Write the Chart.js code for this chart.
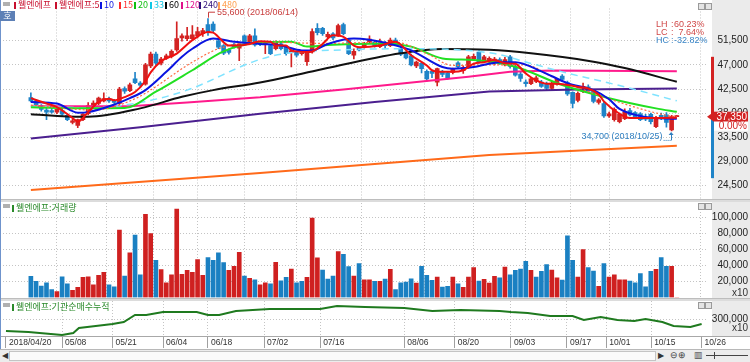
<!DOCTYPE html>
<html>
<head>
<meta charset="utf-8">
<script src="https://cdn.jsdelivr.net/npm/chart.js@4.4.1/dist/chart.umd.min.js"></script>
<style>
body { margin: 0; background: #fff; }
#wrap { position: relative; width: 750px; height: 362px; overflow: hidden; background: #fff; font-family: "Liberation Sans", sans-serif; }
canvas { position: absolute; left: 0; }
.abs { position: absolute; white-space: nowrap; }
.kr { font-family: "Noto Sans CJK KR", sans-serif; font-size: 9px; line-height: 10px; }
.mk { display: inline-block; width: 2px; height: 7px; margin-right: 2px; vertical-align: -1px; }
.sm { font-size: 9px; line-height: 8px; }
.btn { position: absolute; width: 5px; height: 5px; border: 1px solid #9a9a9a; background: #e4e4e4; }
</style>
</head>
<body>
<div id="wrap">
  <div class="abs" style="left:712px;top:0;width:38px;height:336px;background:#ebebeb"></div>
  <canvas id="cMain" width="750" height="200" style="top:0"></canvas>
  <canvas id="cVol" width="750" height="100" style="top:200px"></canvas>
  <canvas id="cInst" width="750" height="49" style="top:300px"></canvas>

  <!-- panel separators -->
  <div class="abs" style="left:0;top:199px;width:750px;height:2px;background:#dcdcdc;border-top:1px solid #bdbdbd"></div>
  <div class="abs" style="left:0;top:298px;width:750px;height:2px;background:#dcdcdc;border-top:1px solid #bdbdbd"></div>
  <div class="abs" style="left:0;top:336px;width:750px;height:1px;background:#a8a8a8"></div>
  <div class="abs" style="left:0;top:0;width:1px;height:349px;background:#6f93cc"></div>

  <!-- header legend -->
  <div class="abs" style="left:3px;top:2px;width:7px;height:4px;background:#b0b0b0"></div>
  <div id="legend"></div>
  <div class="abs kr" style="left:0;top:11px;width:15px;height:10px;background:#5d80b6;color:#fff;text-align:center">호</div>
  <div class="btn" style="left:698px;top:3px"></div><div class="btn" style="left:705px;top:3px"></div>

  <!-- LH / LC / HC -->
  <div class="abs sm" style="left:656px;top:20px;color:#d04848">LH</div>
  <div class="abs sm" style="left:671px;top:20px;color:#d04848">:</div>
  <div class="abs sm" style="left:674px;top:20px;width:30px;text-align:right;color:#d04848">60.23%</div>
  <div class="abs sm" style="left:656px;top:28px;color:#d04848">LC</div>
  <div class="abs sm" style="left:671px;top:28px;color:#d04848">:</div>
  <div class="abs sm" style="left:674px;top:28px;width:30px;text-align:right;color:#d04848">7.64%</div>
  <div class="abs sm" style="left:656px;top:36px;color:#3a86c8">HC</div>
  <div class="abs sm" style="left:671px;top:36px;color:#3a86c8">:</div>
  <div class="abs sm" style="left:674px;top:36px;width:30px;text-align:right;color:#3a86c8">-32.82%</div>

  <!-- volume panel title -->
  <div class="abs" style="left:3px;top:204px;width:7px;height:4px;background:#b0b0b0"></div>
  <div class="abs kr" style="left:12px;top:203px;color:#2a8a2a"><span class="mk" style="background:#2a8a2a"></span>웰엔에프:거래량</div>
  <div class="btn" style="left:698px;top:203px"></div><div class="btn" style="left:705px;top:203px"></div>
  <div class="abs sm" style="left:714px;top:288px;width:34px;text-align:right;color:#333;font-size:10px;line-height:10px">x10</div>

  <!-- institution panel title -->
  <div class="abs" style="left:3px;top:303px;width:7px;height:4px;background:#b0b0b0"></div>
  <div class="abs kr" style="left:12px;top:302px;color:#2a8a2a"><span class="mk" style="background:#2a8a2a"></span>웰엔에프:기관순매수누적</div>
  <div class="btn" style="left:698px;top:302px"></div><div class="btn" style="left:705px;top:302px"></div>
  <div class="abs sm" style="left:714px;top:323px;width:34px;text-align:right;color:#333;font-size:10px;line-height:10px">x10</div>

  <!-- scroll bar -->
  <div class="abs" style="left:0;top:349px;width:750px;height:13px;background:#ececec;border-top:1px solid #b8b8b8"></div>
  <div class="abs" style="left:2px;top:351px;font-size:8px;line-height:9px;color:#333">◀</div>
  <div class="abs" style="left:9px;top:351px;width:645px;height:8px;background:#fafafa;border:1px solid #c4c4c4"></div>
  <div class="abs" style="left:658px;top:351px;font-size:8px;line-height:9px;color:#333">▶</div>
  <div class="abs" style="left:670px;top:350px;font-size:9px;line-height:10px;color:#444">⊖⊕</div>
  <div class="abs" style="left:694px;top:350px;font-size:9px;line-height:10px;color:#444">▥</div>
  <div class="abs" style="left:706px;top:355px;width:42px;height:1px;background:#444"></div>
  <div class="abs" style="left:714px;top:352px;width:1px;height:7px;background:#444"></div>
</div>

<script>
// 날짜 눈금 (캔들 순번 기준)
const dateIdx = [0, 10, 19, 28, 36, 46, 56, 71, 80, 90, 100, 107, 115, 124];
const dateLbl = ['2018/04/20', '05/08', '05/21', '06/04', '06/18', '07/02', '07/16', '08/06', '08/20', '09/03', '09/17', '10/01', '10/15', '10/26'];

const priceTicks = [24500, 29000, 33500, 38000, 42500, 47000, 51500];
const volTicks = [20000, 40000, 60000, 80000, 100000];
const instTicks = [300000];

// 일봉 (시가/고가/저가/종가)
const openP = [40900,40300,39400,38600,38500,38200,38500,37600,36300,35700,
  36800,37900,39300,39800,40300,40700,40400,39800,42600,42200,
  44400,43600,43400,46800,49000,47300,48300,48600,49800,52000,
  51900,51900,52400,52800,54500,54600,51500,50600,49800,50800,
  50100,52400,51300,52400,51100,50800,50600,50000,50900,50300,
  49300,49400,49100,47600,49400,53800,53800,52200,52800,52500,
  54500,51600,48800,50100,50300,51300,51200,50400,51000,50600,
  51600,50000,49100,48700,46800,47300,45800,45800,43800,45700,
  45500,45600,47400,45900,46600,48100,49400,47600,47600,47600,
  48000,47000,48500,46600,45300,43800,43500,43900,43800,43500,
  42600,43400,44900,43700,41900,40400,42000,42900,42200,40000,
  39800,37500,36800,36400,37000,38500,38100,37900,37100,37800,
  35500,37600,37700,34900,37350];
const highP = [41800,40500,39600,39000,39100,39000,39000,37800,36900,36900,
  38000,40000,40300,41000,41800,41000,40600,42800,42900,43600,
  45600,43900,47300,49400,49400,48400,49000,49800,55000,52800,
  54000,54300,54000,53800,55600,55000,51800,50800,50000,51000,
  51000,52600,52700,53700,51300,51300,50800,51500,51200,50500,
  49800,49600,49700,49600,53700,54700,54000,53100,53000,54600,
  54800,51800,50000,50300,51200,52400,51500,51800,51400,52000,
  52000,50300,49400,49000,47700,47500,46100,46000,46400,46000,
  45700,46400,47600,46800,48800,49000,49700,48800,48500,48400,
  48300,48400,48800,46900,45600,44200,44600,44900,44100,43800,
  43900,44500,45200,44000,42000,42000,43600,43300,42400,40700,
  40100,38200,39000,38000,38800,38900,38300,38100,37800,38000,
  37400,38000,38100,37600,37350];
const lowP = [40100,39300,38400,36800,38000,37900,37600,36600,36000,35300,
  36600,37700,39100,39600,40100,40000,39600,39600,41700,42000,
  43500,42800,43200,46500,47000,47000,48000,48300,49500,51400,
  51500,51500,52000,52300,52500,53000,50000,48900,49000,50100,
  47800,51000,51100,50500,50600,49100,48900,49800,49800,48800,
  46600,48500,48800,46900,49200,52600,52500,52000,51700,52300,
  52600,48900,48100,49600,50100,51100,50300,50200,50100,50400,
  50800,48700,48100,46800,46500,45500,44000,44600,43100,44800,
  44300,45300,46400,45400,46400,47900,47300,47400,47300,47000,
  47100,46800,46400,44900,43900,43000,43300,43700,42800,42300,
  42400,43200,44000,41300,39000,40100,41800,41900,39900,39700,
  37200,37200,36500,36200,36800,37500,37000,36600,36600,36000,
  35300,36800,35400,34700,37350];
const closeP = [40300,39600,38700,38200,38200,38700,37800,36800,36600,36800,
  37800,39400,39900,40800,40700,40300,40000,42500,42100,43300,
  43700,43200,47000,49000,47300,48100,48700,49500,51900,52400,
  52400,52600,53200,53400,53200,53400,50300,49200,49300,50400,
  50900,51300,52400,50700,50800,51100,49100,51200,50000,49100,
  49600,48800,49500,49400,53200,53000,52800,52700,52000,54300,
  52800,49100,49500,49800,51000,51800,50500,51000,50600,51600,
  51000,49000,48300,47000,47500,46300,44400,45400,46300,45200,
  44600,46200,46600,46500,48500,48600,47600,48500,48200,48100,
  47400,48000,46700,45100,44500,43500,44400,44600,43000,42600,
  43600,44300,44300,41600,39800,41700,43000,42100,40200,40500,
  37500,37900,38700,37800,38200,37700,37300,36800,36900,36400,
  37000,37000,36300,37350,37350];

// 거래량 (x10), 색: R 상승 / B 하락
const volume = [26300,20000,14200,18300,10000,7500,25800,17100,8800,12500,
  25000,25800,15800,27500,31300,15800,13300,83800,26700,55400,
  77500,28300,103300,79600,46300,34600,18300,28300,110000,28800,
  33800,31300,47100,27500,49600,46300,55400,43300,33800,38800,
  56300,26700,23800,22100,15800,18300,17100,43800,20800,25000,
  35400,18300,20000,25000,98800,49200,34200,22900,26700,57100,
  53800,38300,26700,42100,22100,22100,20000,20000,22900,35000,
  10000,18300,19200,23300,17900,38800,27500,21300,25400,12900,
  13800,25400,17100,12500,25400,37100,20400,22500,17900,26300,
  24600,37900,28300,33800,35400,45000,33800,25400,32500,40800,
  34200,24600,21700,76700,46300,25400,59600,37100,32900,13800,
  42100,25400,28300,22100,22100,20400,18300,29600,13300,32500,
  35000,49600,38800,38800,0];
const volDir = 'BBBBBRBBRR' + 'RRRRRBBRBR' + 'BBRRBRRRRR' + 'RRRRBBBBRR' + 'RBRBRRBRBB' +
  'RBBRRRBBBR' + 'BBRBRRBRBR' + 'BBBBRBBBRB' + 'BRBRRRBRRR' + 'BRBBBBRBBB' +
  'RRBBBRRBBR' + 'BRRRRBBBBB' + 'RBBRR';

// 이동평균선 [순번, 값]
const ma5 = [[0,40800],[3,39800],[5,39150],[8,37100],[9,36400],[11,38200],[13,40100],[15,40700],[16,40400],[18,41000],
  [20,41950],[22,44000],[23,45600],[25,47700],[28,49100],[30,50800],[31,51600],[34,53100],[35,53000],[36,52200],
  [38,50600],[40,50600],[42,50900],[44,51400],[46,51300],[47,50600],[49,50600],[50,49700],[53,49400],[54,49500],
  [56,50900],[58,52500],[60,52200],[62,50600],[63,50300],[67,50600],[70,51300],[73,48800],[76,46900],[77,46000],
  [79,45700],[81,45700],[83,46000],[85,47200],[87,47500],[89,47900],[91,47300],[93,47200],[95,45400],[97,44100],
  [99,43500],[101,43500],[105,42900],[107,42600],[109,41500],[110,40200],[113,37900],[115,37100],[119,37100],[121,37100],[124,37150]];
const ma10 = [[0,40100],[5,39800],[9,38100],[11,38200],[16,39600],[19,40800],[22,42300],[26,45700],[29,48500],[31,50000],
  [35,51900],[39,51300],[44,50900],[48,50600],[52,49700],[54,49700],[57,50900],[62,51900],[69,50900],[73,49700],
  [79,46600],[81,46300],[85,46600],[90,47500],[93,47500],[98,45800],[103,43600],[108,42300],[111,40600],[113,38800],
  [118,37300],[124,36950]];
const ma15 = [[0,39500],[12,38600],[20,40700],[31,47500],[36,50000],[44,51300],[56,51000],[70,51200],[76,49100],[81,46900],
  [88,47000],[95,47000],[100,44800],[110,41000],[122,37600],[124,37350]];
const ma20 = [[0,39100],[10,38900],[18,38950],[24,42000],[31,46000],[37,49500],[44,51200],[50,51300],[53,50400],[57,50700],
  [62,50900],[68,51000],[73,50400],[79,48200],[85,47900],[93,46650],[102,43250],[111,40800],[120,38900],[124,38250]];
const ma33 = [[0,39300],[12,39000],[21,40000],[30,42300],[43,47700],[48,49000],[60,49800],[74,50000],[89,49100],[95,47550],
  [102,45700],[110,43850],[114,42900],[124,40300]];
const ma60 = [[0,37800],[7,37400],[11,37350],[21,38900],[29,41050],[35,42300],[44,43700],[55,46000],[71,49150],[79,49950],
  [88,49800],[96,49150],[108,47600],[114,46400],[124,43850]];
const ma120 = [[0,39300],[19,39300],[30,40000],[44,40950],[60,42400],[75,43900],[84,44800],[92,45700],[100,45950],[124,45800]];
const ma240 = [[0,33300],[21,35400],[44,37900],[66,40100],[88,42050],[105,42400],[124,42600]];
const ma480 = [[0,23700],[44,26850],[88,30200],[124,31950]];

// 기관 순매수 누적 (x10)
const instCum = [[0,215700],[4,208600],[8,194300],[10,187100],[12,201400],[13,237100],[16,251400],[19,265700],[21,280000],[23,330000],
  [25,330000],[28,351400],[31,351400],[34,351400],[36,330000],[38,330000],[41,358600],[47,372900],[53,372900],[56,372900],
  [59,394300],[64,387100],[71,380000],[76,358600],[81,365700],[88,358600],[90,351400],[93,344300],[97,322900],[101,322900],
  [103,294300],[106,315700],[109,294300],[112,287100],[114,301400],[117,280000],[119,251400],[122,244300],[124,265700]];

// 최고/최저, 현재가
const highIdx = 34, highVal = 55600, highText = '55,600 (2018/06/14)';
const lowIdx = 123, lowVal = 34700, lowText = '34,700 (2018/10/25)';
const lastClose = 37350, lastText = '37,350', lastPct = '0.00%';
const rangeTop = 48500, rangeBottom = 25900;

const RED = '#d32222', BLUE = '#1f84c8';

// 범례
const legendItems = [
  [14, '#c8102e', '웰엔에프'], [55, '#c8102e', '웰엔에프:5'], [100, '#0a14e0', '10'], [119, '#ff2a2a', '15'],
  [134, '#10c010', '20'], [150, '#10c8e6', '33'], [165, '#000000', '60'], [181, '#e0108c', '120'],
  [199, '#30107a', '240'], [218, '#ffa050', '480']
];
var legendHtml = '';
legendItems.forEach(function (it) {
  legendHtml += '<div class="abs kr" style="left:' + it[0] + 'px;top:0;color:' + it[1] + '">' +
    '<span class="mk" style="background:' + it[1] + '"></span>' + it[2] + '</div>';
});
document.getElementById('legend').innerHTML = legendHtml;

Chart.defaults.font.family = 'Liberation Sans';

function toPts(arr) {
  return arr.map(function (p) { return {x: p[0], y: p[1]}; });
}

function xScale(withLabels) {
  return {
    type: 'linear', min: -0.53, max: 124.78,
    afterBuildTicks: function (s) { s.ticks = dateIdx.map(function (v) { return {value: v}; }); },
    afterFit: function (s) { s.height = withLabels ? 13 : 0; s.paddingLeft = 0; s.paddingRight = 0; },
    grid: {
      color: function (c) { return (c.tick && (c.tick.value === 0 || c.tick.value === 124)) ? 'rgba(0,0,0,0)' : '#c4c4c4'; },
      drawTicks: withLabels, tickLength: 12, tickColor: '#a0a0a0', tickBorderDash: []
    },
    border: {display: false, dash: [1, 2]},
    ticks: withLabels ? {
      display: true, autoSkip: false, maxRotation: 0, align: 'start', labelOffset: 3, padding: -10,
      color: '#333', font: {family: 'Liberation Sans', size: 8.5},
      callback: function (v) { return dateLbl[dateIdx.indexOf(v)]; }
    } : {display: false}
  };
}

function yScale(min, max, ticks) {
  return {
    type: 'linear', position: 'right', min: min, max: max,
    afterBuildTicks: function (s) { s.ticks = ticks.map(function (v) { return {value: v}; }); },
    afterFit: function (s) { s.width = 42; s.paddingTop = 0; s.paddingBottom = 0; },
    grid: {color: '#c4c4c4', drawTicks: false},
    border: {display: false, dash: [1, 2]},
    ticks: {
      padding: 0, crossAlign: 'far', color: '#222', font: {family: 'Liberation Sans', size: 10},
      callback: function (v) { return v.toLocaleString('en-US'); }
    }
  };
}

function baseOptions(pad, withLabels, yCfg) {
  return {
    responsive: false, animation: false, devicePixelRatio: 1, events: [],
    layout: {padding: pad, autoPadding: false},
    plugins: {legend: {display: false}, tooltip: {enabled: false}},
    scales: {x: xScale(withLabels), y: yCfg}
  };
}

function maLine(data, color, width, order, dash, smooth) {
  return {
    type: 'line', data: toPts(data), borderColor: color, borderWidth: width, borderDash: dash || [],
    pointRadius: 0, order: order, cubicInterpolationMode: smooth ? 'monotone' : 'default', tension: 0
  };
}

// 캔들 색
var candleColor = closeP.map(function (c, i) { return c >= openP[i] ? RED : BLUE; });

// 주가 차트 주석
const mainDeco = {
  id: 'mainDeco',
  afterDraw: function (chart) {
    var ctx = chart.ctx, x = chart.scales.x, y = chart.scales.y;
    ctx.save();
    var yLast = y.getPixelForValue(lastClose);
    var yTop = y.getPixelForValue(rangeTop);
    var yBot = y.getPixelForValue(rangeBottom);
    ctx.fillStyle = RED;
    ctx.fillRect(711, yTop, 3, yLast - yTop);
    ctx.fillStyle = BLUE;
    ctx.fillRect(711, yLast, 3, yBot - yLast);

    // 현재가 표시
    ctx.fillStyle = RED;
    ctx.beginPath();
    ctx.moveTo(707, yLast);
    ctx.lineTo(714, yLast - 5);
    ctx.lineTo(714, yLast + 5);
    ctx.closePath();
    ctx.fill();
    ctx.fillRect(714, yLast - 5, 34, 10);
    ctx.fillStyle = '#fff';
    ctx.fillRect(714, yLast + 5, 34, 9);
    ctx.font = '10px "Liberation Sans"';
    ctx.textAlign = 'right';
    ctx.textBaseline = 'middle';
    ctx.fillText(lastText, 747, yLast + 0.5);
    ctx.fillStyle = RED;
    ctx.fillText(lastPct, 747, yLast + 10);

    // 최고가
    var xh = x.getPixelForValue(highIdx), yh = y.getPixelForValue(highVal);
    ctx.strokeStyle = '#c83c3c';
    ctx.lineWidth = 1;
    ctx.beginPath();
    ctx.moveTo(Math.round(xh) + 0.5, yh - 1);
    ctx.lineTo(Math.round(xh) + 0.5, yh - 6.5);
    ctx.lineTo(Math.round(xh) + 7, yh - 6.5);
    ctx.stroke();
    ctx.fillStyle = '#c83c3c';
    ctx.font = '9px "Liberation Sans"';
    ctx.textAlign = 'left';
    ctx.fillText(highText, xh + 9, yh - 6);

    // 최저가
    var xl = x.getPixelForValue(lowIdx), yl = y.getPixelForValue(lowVal);
    ctx.fillStyle = '#2f7fc0';
    ctx.strokeStyle = '#2f7fc0';
    ctx.textAlign = 'right';
    ctx.fillText(lowText, xl - 9, yl + 6);
    ctx.setLineDash([1, 1]);
    ctx.beginPath();
    ctx.moveTo(xl - 8, yl + 9.5);
    ctx.lineTo(xl - 1, yl + 9.5);
    ctx.stroke();
    ctx.setLineDash([]);
    ctx.beginPath();
    ctx.moveTo(Math.round(xl) - 0.5, yl + 9.5);
    ctx.lineTo(Math.round(xl) - 0.5, yl + 2);
    ctx.stroke();
    ctx.beginPath();
    ctx.moveTo(xl - 0.5, yl + 1);
    ctx.lineTo(xl - 3, yl + 4);
    ctx.lineTo(xl + 2, yl + 4);
    ctx.closePath();
    ctx.fill();
    ctx.restore();
  }
};

// 주가 + 이동평균
new Chart(document.getElementById('cMain'), {
  type: 'bar',
  data: {
    datasets: [
      {
        data: highP.map(function (h, i) { return {x: i, y: [lowP[i], h]}; }),
        backgroundColor: candleColor, barThickness: 1, grouped: false, minBarLength: 1, order: 20
      },
      {
        data: openP.map(function (o, i) { return {x: i, y: [o, closeP[i]]}; }),
        backgroundColor: candleColor, barThickness: 4, grouped: false, minBarLength: 1, order: 19
      },
      maLine(ma480, '#ff6a1a', 2, 9),
      maLine(ma240, '#4b1f8f', 2, 8),
      maLine(ma120, '#ff1a8c', 2, 7),
      maLine(ma60, '#111111', 2, 6, null, true),
      maLine(ma33, '#7fe3ff', 1.5, 5, [7, 5], true),
      maLine(ma20, '#22e022', 2, 4, null, true),
      maLine(ma15, '#ff6a40', 1.2, 3, [2, 2], true),
      maLine(ma10, '#0a14e0', 2, 2, null, true),
      maLine(ma5, '#f01010', 2, 1, null, true)
    ]
  },
  options: baseOptions({left: 3, right: 2, top: 8.5, bottom: 0.9}, false, yScale(22000, 57500, priceTicks)),
  plugins: [mainDeco]
});

// 거래량
new Chart(document.getElementById('cVol'), {
  type: 'bar',
  data: {
    datasets: [{
      data: volume.map(function (v, i) { return {x: i, y: v}; }),
      backgroundColor: volume.map(function (v, i) { return volDir[i] === 'R' ? '#cf2020' : '#1a80c2'; }),
      barThickness: 4, grouped: false
    }]
  },
  options: baseOptions({left: 3, right: 2, top: 3, bottom: 2.5}, false, yScale(0, 117500, volTicks))
});

// 기관 순매수 누적
new Chart(document.getElementById('cInst'), {
  type: 'line',
  data: {
    datasets: [{
      data: toPts(instCum), borderColor: '#1f7a1f', borderWidth: 2, pointRadius: 0, tension: 0
    }]
  },
  options: baseOptions({left: 3, right: 2, top: 1, bottom: 0}, true, yScale(180000, 430000, instTicks))
});
</script>
</body>
</html>
